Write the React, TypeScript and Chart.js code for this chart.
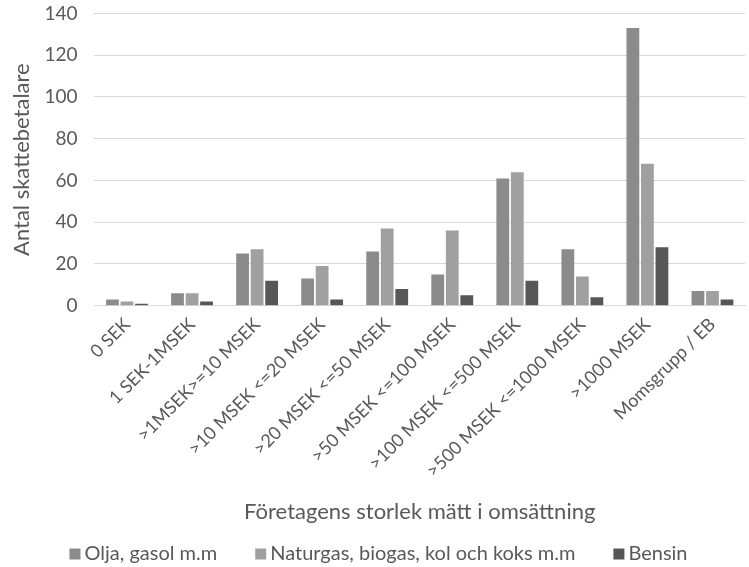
import React, { useEffect, useRef } from "react";
import { Chart, registerables } from "chart.js";

Chart.register(...registerables);

const categories = [
  "0 SEK",
  "1 SEK-1MSEK",
  ">1MSEK>=10 MSEK",
  ">10 MSEK <=20 MSEK",
  ">20 MSEK <=50 MSEK",
  ">50 MSEK <=100 MSEK",
  ">100 MSEK <=500 MSEK",
  ">500 MSEK <=1000 MSEK",
  ">1000 MSEK",
  "Momsgrupp / EB",
];
const olja = [3, 6, 25, 13, 26, 15, 61, 27, 133, 7];
const naturgas = [2, 6, 27, 19, 37, 36, 64, 14, 68, 7];
const bensin = [1, 2, 12, 3, 8, 5, 12, 4, 28, 3];
const seriesNames = ["Olja, gasol m.m", "Naturgas, biogas, kol och koks m.m", "Bensin"];
const seriesColors = ["#8b8b8b", "#a0a0a0", "#575757"];

const FONT = "Lato, 'Liberation Sans', sans-serif";
const TEXT_COLOR = "#595959";

const legendPlugin = {
  id: "bottomLegend",
  afterDraw(chart: any) {
    const ctx = chart.ctx as CanvasRenderingContext2D;
    ctx.save();
    ctx.font = `20px ${FONT}`;
    const box = 11;
    const gapText = 4;
    const gapItem = 38;
    const items = chart.data.datasets.map((ds: any) => ({
      text: ds.label as string,
      color: ds.backgroundColor as string,
      w: ctx.measureText(ds.label).width,
    }));
    const total =
      items.reduce((s: number, it: any) => s + box + gapText + it.w, 0) + gapItem * (items.length - 1);
    let x = chart.width / 2 + 4 - total / 2;
    const y = chart.height - 13;
    ctx.textBaseline = "middle";
    ctx.textAlign = "left";
    for (const it of items) {
      ctx.fillStyle = it.color;
      ctx.fillRect(x, y - box / 2, box, box);
      x += box + gapText;
      ctx.fillStyle = TEXT_COLOR;
      ctx.fillText(it.text, x, y);
      x += it.w + gapItem;
    }
    ctx.restore();
  },
};

export default function App() {
  const ref = useRef<HTMLCanvasElement | null>(null);
  useEffect(() => {
    if (!ref.current) return;
    const chart = new Chart(ref.current, {
      type: "bar",
      data: {
        labels: categories,
        datasets: [
          { label: seriesNames[0], data: olja, backgroundColor: seriesColors[0], borderWidth: 0 },
          { label: seriesNames[1], data: naturgas, backgroundColor: seriesColors[1], borderWidth: 0 },
          { label: seriesNames[2], data: bensin, backgroundColor: seriesColors[2], borderWidth: 0 },
        ],
      },
      plugins: [legendPlugin],
      options: {
        animation: false,
        responsive: true,
        maintainAspectRatio: false,
        datasets: { bar: { categoryPercentage: 0.67, barPercentage: 0.88 } },
        layout: { padding: { top: 0, right: 4, left: 0, bottom: 40 } },
        plugins: {
          tooltip: { enabled: false },
          legend: { display: false },
        },
        scales: {
          x: {
            grid: { display: false, drawTicks: false },
            border: { display: true, color: "#d9d9d9", width: 1 },
            ticks: {
              font: { family: FONT, size: 18 },
              color: TEXT_COLOR,
              minRotation: 45,
              maxRotation: 45,
              padding: 8,
              autoSkip: false,
            },
            title: {
              display: true,
              text: "Företagens storlek mätt i omsättning",
              font: { family: FONT, size: 22 },
              color: TEXT_COLOR,
              padding: { top: 9, bottom: 2 },
            },
          },
          y: {
            min: 0,
            max: 140,
            ticks: {
              stepSize: 20,
              font: { family: FONT, size: 19, lineHeight: 1 },
              color: TEXT_COLOR,
              padding: 4,
            },
            grid: { color: "#d9d9d9", drawTicks: true, tickLength: 13, tickColor: "rgba(0,0,0,0)" },
            border: { display: false },
            title: {
              display: true,
              text: "Antal skattebetalare",
              font: { family: FONT, size: 22 },
              color: TEXT_COLOR,
              padding: { top: 9, bottom: 5 },
            },
          },
        },
      },
    });
    return () => chart.destroy();
  }, []);
  return (
    <div style={{ position: "fixed", left: 0, top: 0, width: 749, height: 567, background: "#fff" }}>
      <canvas ref={ref} />
    </div>
  );
}
